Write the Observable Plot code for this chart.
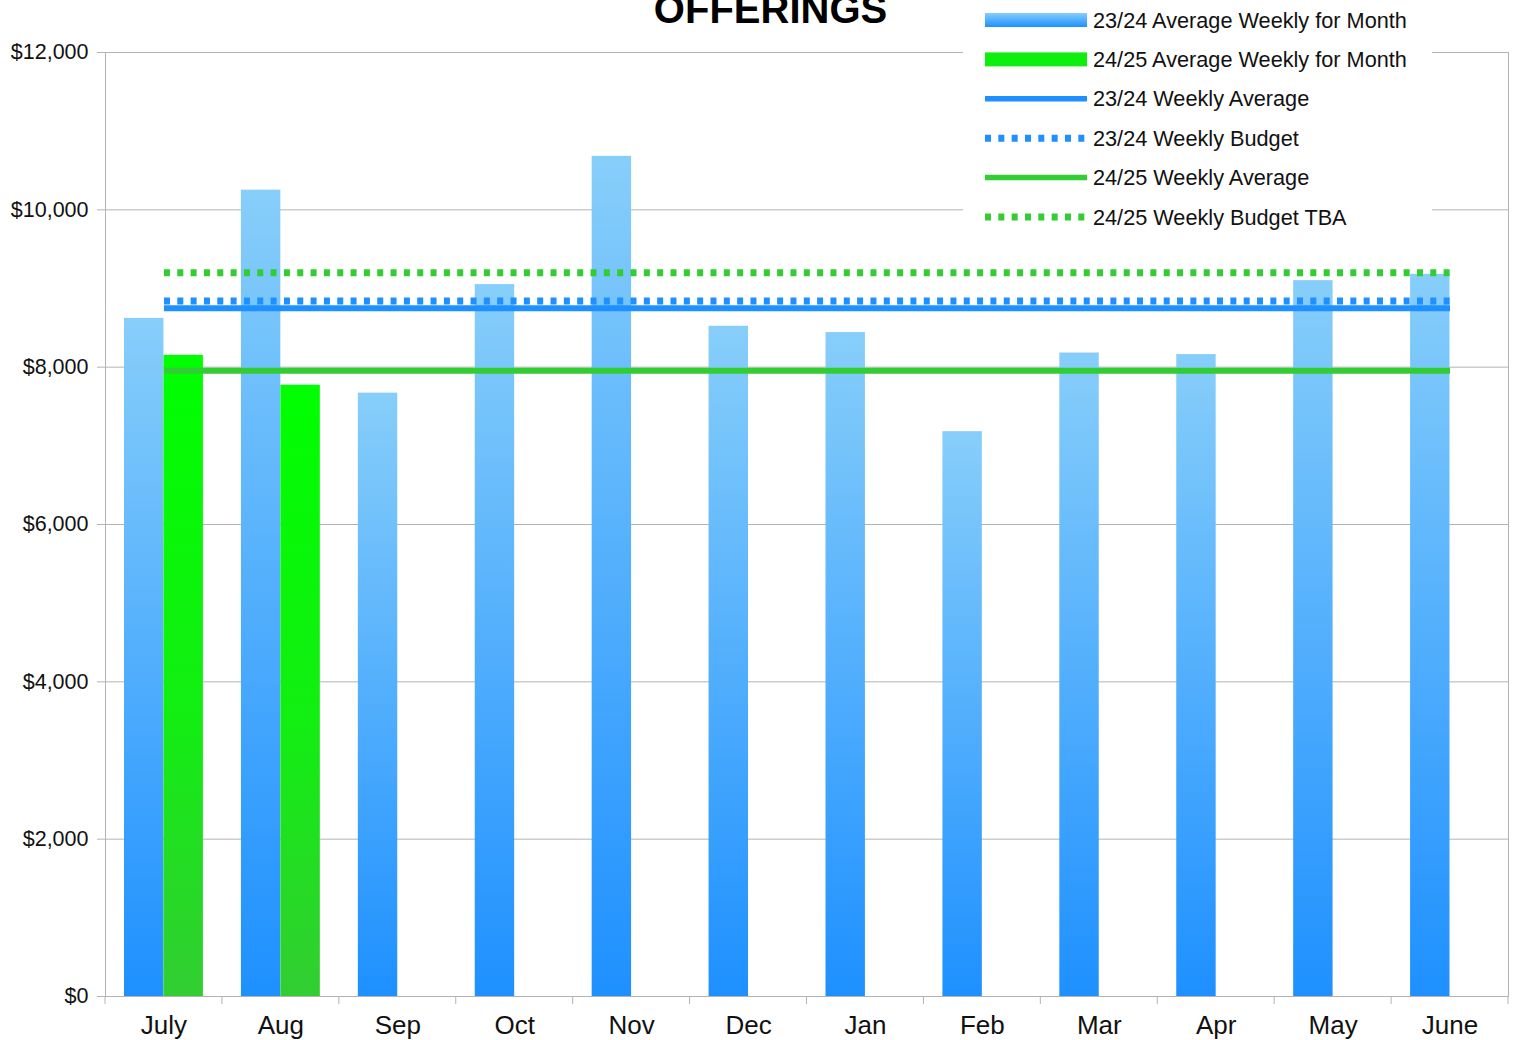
<!DOCTYPE html>
<html>
<head>
<meta charset="utf-8">
<script src="https://cdn.jsdelivr.net/npm/d3@7"></script>
<script src="https://cdn.jsdelivr.net/npm/@observablehq/plot@0.6"></script>
<style>
  html, body { margin: 0; padding: 0; background: #fff; }
  #chart { position: relative; width: 1518px; height: 1040px; overflow: hidden; }
</style>
</head>
<body>
<div id="chart"></div>
<script>
// ---- Data ----
const title = "OFFERINGS";
const months = ["July", "Aug", "Sep", "Oct", "Nov", "Dec", "Jan", "Feb", "Mar", "Apr", "May", "June"];
const avgWeekly2324 = [8620, 10250, 7670, 9050, 10680, 8520, 8440, 7180, 8180, 8160, 9100, 9180];
const avgWeekly2425 = [8150, 7770];
const weeklyAverage2324 = 8750;
const weeklyBudget2324 = 8840;
const weeklyAverage2425 = 7955;
const weeklyBudget2425 = 9200;
const yTicks = [0, 2000, 4000, 6000, 8000, 10000, 12000];
const seriesNames = [
  "23/24 Average Weekly for Month",
  "24/25 Average Weekly for Month",
  "23/24 Weekly Average",
  "23/24 Weekly Budget",
  "24/25 Weekly Average",
  "24/25 Weekly Budget TBA"
];

// ---- Derived tables ----
const blueBars = months.map((m, i) => ({month: m, value: avgWeekly2324[i]}));
const greenBars = avgWeekly2425.map((v, i) => ({month: months[i], value: v}));
const flat = v => months.map(m => ({month: m, value: v}));

const FONT = '"Liberation Sans", Arial, sans-serif';
const GRID = "#b3b3b3";
const BLUE = "#1e90ff";
const GREEN = "#32cd32";
const dash = "6,7.33";

const plot = Plot.plot({
  width: 1518,
  height: 1040,
  marginTop: 52,
  marginRight: 10,
  marginBottom: 44,
  marginLeft: 105,
  style: {background: "#fff", fontFamily: FONT, overflow: "visible"},
  x: {type: "band", domain: months, paddingInner: 0, paddingOuter: 0, round: false, label: null},
  y: {domain: [0, 12000], label: null},
  marks: [
    Plot.gridY({ticks: yTicks, stroke: GRID, strokeOpacity: 1, strokeWidth: 1}),
    Plot.frame({stroke: GRID, strokeWidth: 1}),
    Plot.barY(blueBars, {x: "month", y: "value", fill: "url(#gradBlue)", insetLeft: 19, insetRight: 58.5}),
    Plot.barY(greenBars, {x: "month", y: "value", fill: "url(#gradGreen)", insetLeft: 58.5, insetRight: 19}),
    Plot.lineY(flat(weeklyBudget2425), {x: "month", y: "value", stroke: GREEN, strokeWidth: 7, strokeDasharray: dash, strokeLinecap: "butt"}),
    Plot.lineY(flat(weeklyAverage2324), {x: "month", y: "value", stroke: BLUE, strokeWidth: 6, strokeLinecap: "butt"}),
    Plot.lineY(flat(weeklyBudget2324), {x: "month", y: "value", stroke: BLUE, strokeWidth: 7, strokeDasharray: dash, strokeLinecap: "butt"}),
    Plot.lineY(flat(weeklyAverage2425), {x: "month", y: "value", stroke: GREEN, strokeWidth: 6, strokeLinecap: "butt"}),
    Plot.axisY({ticks: yTicks, tickSize: 8, tickPadding: 9, stroke: GRID, strokeOpacity: 1, fill: "#111", fontSize: 21.5,
      tickFormat: d => "$" + d3.format(",")(d), label: null}),
    Plot.axisX({tickSize: 0, tickPadding: 19, fill: "#111", fontSize: 26, label: null})
  ]
});

document.getElementById("chart").appendChild(plot);

const svg = d3.select(plot);
const defs = svg.insert("defs", ":first-child");
const gb = defs.append("linearGradient").attr("id", "gradBlue").attr("x1", 0).attr("y1", 0).attr("x2", 0).attr("y2", 1);
gb.append("stop").attr("offset", "0%").attr("stop-color", "#87cefa");
gb.append("stop").attr("offset", "100%").attr("stop-color", "#1e90ff");
const gg = defs.append("linearGradient").attr("id", "gradGreen").attr("x1", 0).attr("y1", 0).attr("x2", 0).attr("y2", 1);
gg.append("stop").attr("offset", "0%").attr("stop-color", "#00ff00");
gg.append("stop").attr("offset", "55%").attr("stop-color", "#12ee12");
gg.append("stop").attr("offset", "100%").attr("stop-color", "#32cd32");

// Category boundary ticks on the x axis, from the plot's own x scale
const xs = plot.scale("x");
const ys = plot.scale("y");
const y0 = ys.apply(0);
const edges = months.map(m => xs.apply(m)).concat([xs.apply(months[months.length - 1]) + xs.bandwidth]);
svg.append("g").selectAll("line").data(edges).join("line")
  .attr("x1", d => d).attr("x2", d => d)
  .attr("y1", y0).attr("y2", y0 + 8)
  .attr("stroke", GRID).attr("stroke-width", 1);

// Title (partly cut off at the top edge, as in the original)
svg.append("text")
  .attr("x", 770.5).attr("y", 23)
  .attr("text-anchor", "middle")
  .attr("font-family", FONT).attr("font-weight", "bold").attr("font-size", 40)
  .attr("fill", "#000")
  .text(title);

// Legend
const lg = svg.append("g").attr("text-anchor", "start");
lg.append("rect").attr("x", 963).attr("y", 0).attr("width", 469).attr("height", 238).attr("fill", "#fff");
const legendStyles = [
  {kind: "bar", fill: "url(#gradBlue)"},
  {kind: "bar", fill: "#0fef0f"},
  {kind: "line", stroke: BLUE},
  {kind: "dash", stroke: BLUE},
  {kind: "line", stroke: GREEN},
  {kind: "dash", stroke: GREEN}
];
seriesNames.forEach((name, i) => {
  const cy = 20 + i * 39.4;
  const st = legendStyles[i];
  if (st.kind === "bar") {
    lg.append("rect").attr("x", 985).attr("y", cy - 7).attr("width", 102).attr("height", 14).attr("fill", st.fill);
  } else {
    lg.append("line").attr("x1", 985).attr("x2", 1087).attr("y1", cy).attr("y2", cy)
      .attr("stroke", st.stroke).attr("stroke-width", st.kind === "dash" ? 7 : 5.5)
      .attr("stroke-dasharray", st.kind === "dash" ? dash : null);
  }
  lg.append("text").attr("x", 1093).attr("y", cy).attr("dy", "0.35em")
    .attr("text-anchor", "start")
    .attr("font-family", FONT).attr("font-size", 21.7).attr("fill", "#111")
    .text(name);
});
</script>
</body>
</html>
